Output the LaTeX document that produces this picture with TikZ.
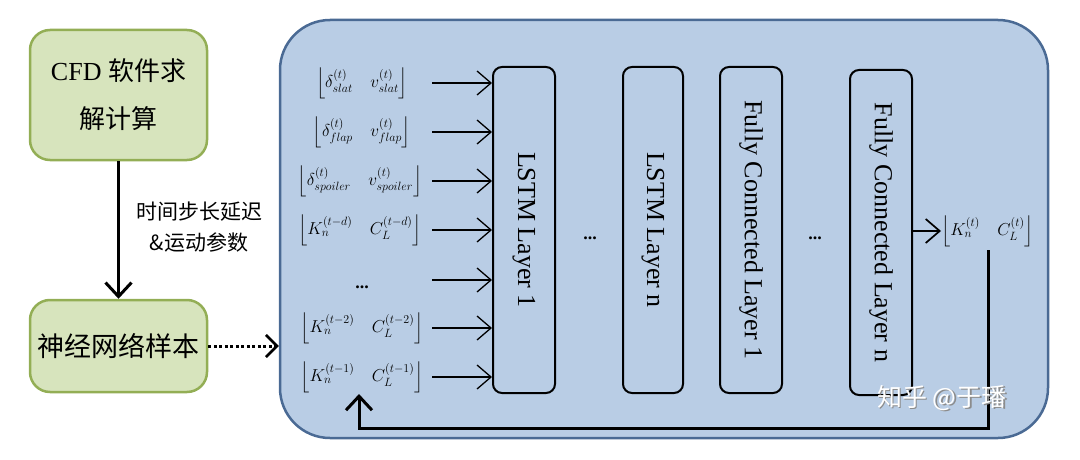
\documentclass[tikz,border=0pt]{standalone}
\usepackage{fontspec}
\setmainfont{Liberation Serif}
\newfontfamily\cjk{Noto Sans CJK SC}
\usepackage{amsmath}
\usetikzlibrary{arrows.meta}
\definecolor{gfill}{HTML}{D7E4BD}
\definecolor{gdraw}{HTML}{93AE55}
\definecolor{bfill}{HTML}{B9CDE5}
\definecolor{bdraw}{HTML}{4A6A94}
\begin{document}
\begin{tikzpicture}[x=1pt,y=-1pt,
  gbox/.style={draw=gdraw, fill=gfill, line width=2.5pt, rounded corners=20pt, inner sep=0pt, align=center},
  bigbox/.style={draw=bdraw, fill=bfill, line width=2.5pt, rounded corners=50pt, inner sep=0pt},
  layerbox/.style={draw=black, line width=2pt, rounded corners=9pt, inner sep=0pt, font=\fontsize{26}{28}\selectfont},
  inp/.style={inner sep=0pt, font=\fontsize{17.5}{20}\selectfont},
  inarr/.style={line width=1.3pt, -{Straight Barb[length=14pt,width=24pt]}},
  bigarr/.style={line width=3pt, -{Straight Barb[length=14pt,width=26pt]}},
  dotarr/.style={line width=3pt, dash pattern=on 3pt off 2.5pt, -{Straight Barb[length=11pt,width=22pt,line width=2.5pt]}},
  cjklbl/.style={inner sep=0pt, align=center, font=\cjk\fontsize{21}{31}\selectfont},
  dotsnode/.style={inner sep=0pt, font=\bfseries\fontsize{18}{18}\selectfont}
]
\useasboundingbox (0,0) rectangle (1080,460);

% left boxes
\node[gbox, minimum width=177pt, minimum height=130pt, font=\fontsize{26}{50}\selectfont] (cfd) at (118.5,95)
  {CFD {\cjk 软件求}\\[-2pt]{\cjk 解计算}};
\node[gbox, minimum width=177pt, minimum height=92pt, font=\cjk\fontsize{27}{30}\selectfont] (nns) at (118.5,346) {神经网络样本};
\draw[bigarr] (cfd.south) -- (nns.north);
\node[cjklbl] (lbl) at (199,227) {时间步长延迟\\\&运动参数};

% big blue box
\node[bigbox, minimum width=768pt, minimum height=418pt] (big) at (664,229) {};
\draw[dotarr] (nns.east) -- (big.west |- nns.east);

% inputs
\node[inp] (in1) at (362,83) {$\left\lfloor \delta^{(t)}_{slat}\quad v^{(t)}_{slat}\right\rfloor$};
\node[inp] (in2) at (362,132) {$\left\lfloor \delta^{(t)}_{flap}\quad v^{(t)}_{flap}\right\rfloor$};
\node[inp] (in3) at (360,181) {$\left\lfloor \delta^{(t)}_{spoiler}\quad v^{(t)}_{spoiler}\right\rfloor$};
\node[inp] (in4) at (360,230) {$\left\lfloor K^{(t-d)}_{n}\quad C^{(t-d)}_{L}\right\rfloor$};
\node[dotsnode] (in5) at (362,287) {...};
\node[inp] (in6) at (362,328) {$\left\lfloor K^{(t-2)}_{n}\quad C^{(t-2)}_{L}\right\rfloor$};
\node[inp] (in7) at (362,377) {$\left\lfloor K^{(t-1)}_{n}\quad C^{(t-1)}_{L}\right\rfloor$};

% layers
\node[layerbox, minimum width=62pt, minimum height=326pt] (l1) at (524,230) {\rotatebox{-90}{LSTM Layer 1}};
\node[layerbox, minimum width=60pt, minimum height=326pt] (ln) at (653,230) {\rotatebox{-90}{LSTM Layer n}};
\node[layerbox, minimum width=62pt, minimum height=326pt] (f1) at (751,230) {\rotatebox{-90}{Fully Connected Layer 1}};
\node[layerbox, minimum width=62pt, minimum height=325pt] (fn) at (881,232.5) {\rotatebox{-90}{Fully Connected Layer n}};
\node[dotsnode] (d1) at (590,238) {...};
\node[dotsnode] (d2) at (815,238) {...};

% input arrows
\foreach \y [count=\i] in {83,132,181,230,280,328,377} {
  \coordinate (a\i) at (432,\y);
  \draw[inarr] (a\i) -- (a\i -| l1.west);
}

% output
\node[inp, anchor=west] (out) at (941,231) {$\left\lfloor K^{(t)}_{n}\quad C^{(t)}_{L}\right\rfloor$};
\draw[inarr, line width=1.7pt] (fn.east |- out.west) -- (out.west);

% feedback
\coordinate (fb0) at (988,250);
\coordinate (fb1) at (359,394);
\draw[bigarr] (fb0) -- (988,428) -| (fb1);

% watermark
\node[inner sep=0pt, text=black!45, font=\cjk\fontsize{25}{25}\selectfont] (wms) at (943.5,399.5) {知乎 @于璠};
\node[inner sep=0pt, text=white, font=\cjk\fontsize{25}{25}\selectfont] (wm) at (942,398) {知乎 @于璠};
\end{tikzpicture}
\end{document}
